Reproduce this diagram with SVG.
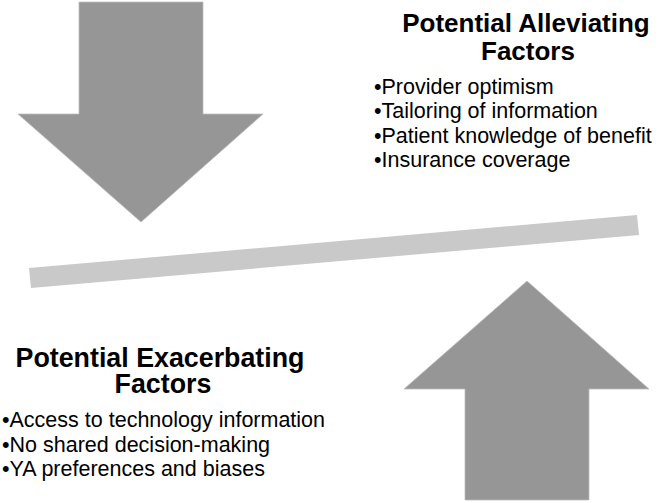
<svg xmlns="http://www.w3.org/2000/svg" width="660" height="503" viewBox="0 0 660 503">
<style>
.arrow{fill:#969696;stroke:#bdbdbd;stroke-width:0.8}
.bar{fill:#c9c9c9}
.h{font-family:"Liberation Sans",Arial,sans-serif;font-weight:bold;font-size:26px;fill:#000;text-anchor:middle}
.h2{font-size:26.8px}
.b{font-family:"Liberation Sans",Arial,sans-serif;font-size:21.5px;fill:#000}
</style>
<rect width="660" height="503" fill="#fff"/>
<g id="down-arrow"><polygon class="arrow" points="79,2 203,2 203,114 263,114 141,222 18,114 79,114"/></g>
<g id="up-arrow"><polygon class="arrow" points="527,281 649,389 589,389 589,500 465,500 465,389 404,389"/></g>
<g id="balance-bar"><polygon class="bar" points="29,268 637,215 639,235 31,288"/></g>
<g id="alleviating">
<text class="h" x="526" y="32">Potential Alleviating</text>
<text class="h" x="528" y="60">Factors</text>
<text class="b" x="374" y="94">•Provider optimism</text>
<text class="b" x="374" y="118">•Tailoring of information</text>
<text class="b" x="374" y="142.5">•Patient knowledge of benefit</text>
<text class="b" x="374" y="167">•Insurance coverage</text>
</g>
<g id="exacerbating">
<text class="h h2" x="160" y="367">Potential Exacerbating</text>
<text class="h h2" x="163" y="393">Factors</text>
<text class="b" x="2" y="427">•Access to technology information</text>
<text class="b" x="2" y="451.5">•No shared decision-making</text>
<text class="b" x="2" y="475.5">•YA preferences and biases</text>
</g>
<g id="connectors"/>
</svg>
